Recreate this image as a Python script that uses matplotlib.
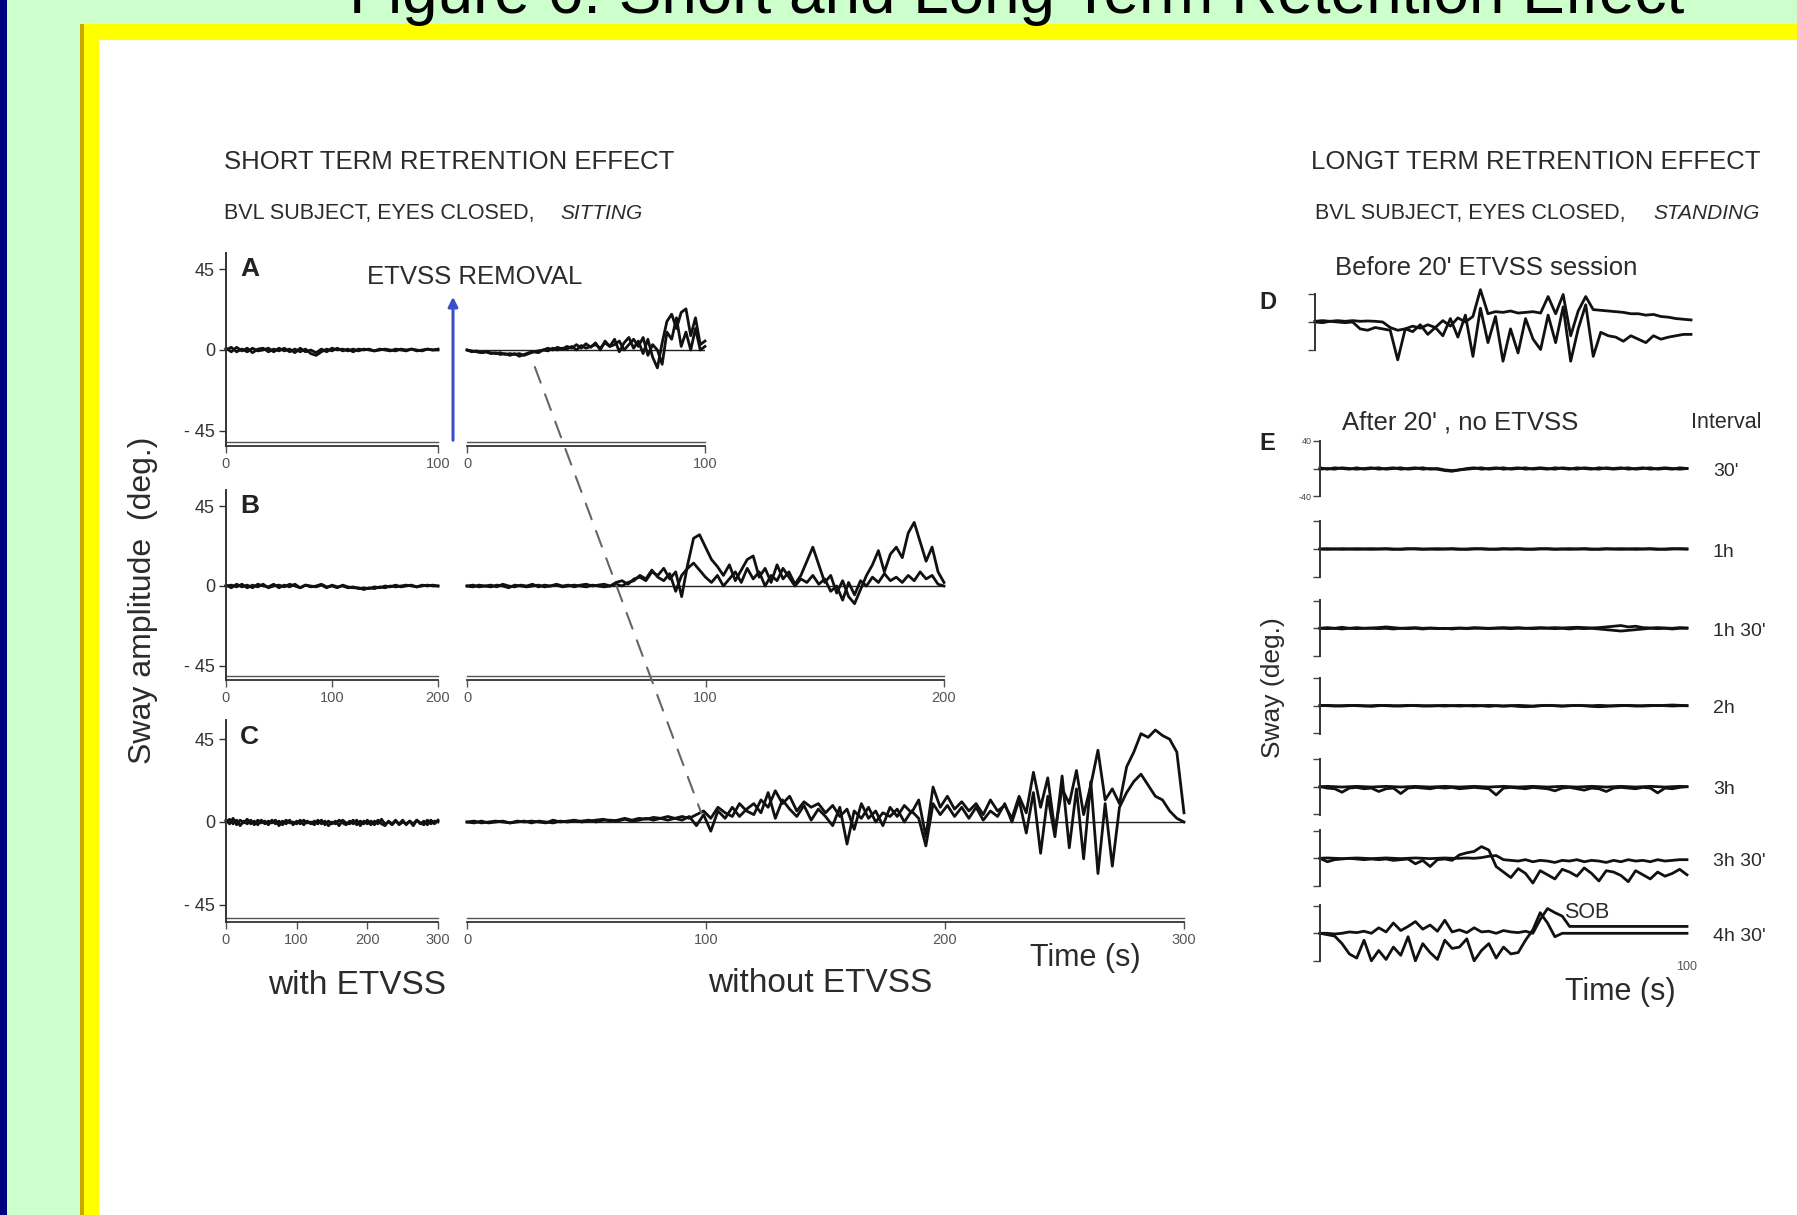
import numpy as np
import matplotlib
matplotlib.use("Agg")
import matplotlib.pyplot as plt
from matplotlib.patches import Rectangle, FancyArrowPatch, ConnectionPatch
from matplotlib.transforms import offset_copy

plt.rcParams['font.family'] = ['Liberation Sans', 'DejaVu Sans']

# ---------------- data (sway in deg.) ----------------
# panel A, 0-100 s with ETVSS / without ETVSS
a_with_1 = [1, -1, 1.5, -0.5, 1, -1.5, 0.5, 1, -1, 0.5, -0.5, 1, -1, 0.5, -1, 0.5, -2, -3, -1, 0.5,
            -0.5, 1, -0.5, 0.5, -1, 0.5, 0, 0.5, -0.5, 0.5, 0, -0.5, 0.5, 0, -0.5, 0.5, 0, -0.5, 0.5, 0, 0]
a_with_2 = [0, 1.5, -1, 0.5, -1, 1, -0.5, 0, 1, -1, 1, -0.5, 0.5, -1.5, 1, -1, 0, -1.5, 0.5, -1,
            1, 0, 0.5, -0.5, 0.5, -0.5, 0.5, 0, -0.5, 0, 0.5, 0, -0.5, 0.5, 0, 0.5, -0.5, 0, 0.5, 0, 0.5]
a_without_1 = [0, -0.5, -1, -1.5, -1, -2, -1.5, -2.5, -2, -3, -2, -3.5, -2.5, -1.5, -1, -0.5, 0, 1, 0, 1.5,
               0.5, 2, 1, 3, 1, 3.5, 1.5, 4, 0, 5, 2, 6, -1, 4, 7, 1, 5, -2, 6, -4,
               -10, 4, 16, 20, 12, 21, 23, 8, 18, 3, 5]
a_without_2 = [0, -1, -0.5, -1.5, -1, -1.5, -2, -1.5, -2.5, -2, -2.5, -2, -3, -2, -1, -1.5, 0, -0.5, 1, 0,
               1, 0.5, 2, 0, 2.5, 1, 2, 3, 1, 4, 2, 3, 5, 0, 3, 6, 2, 7, -3, 3,
               0, -8, 10, 6, 18, 2, 10, 0, 12, 0, 2]

# panel B, 0-200 s
b_with_1 = [0.5, -1, 1, -0.5, 0.5, -1, 1, 0, -0.5, 1, -1, 0.5, -0.5, 1, -1, 0.5, 0, -0.5, 0.5, -1,
            0.5, -0.5, 0, -1, -0.5, -1.5, -1, -1.5, -0.5, -1, 0, -0.5, 0.5, -0.5, 0, 0.5, -0.5, 0, 0.5, 0, 0]
b_with_2 = [0, 0.5, -0.5, 1, -1, 0.5, -0.5, 1, -1, 0, 0.5, -0.5, 1, 0, -1, 0.5, -0.5, 0, 1, -0.5,
            0, -1, 0.5, -0.5, -1, -1, -2, -1, -1.5, -0.5, -1, 0, -0.5, 0, 0.5, 0, -0.5, 0.5, 0, 0.5, 0]
b_without_1 = [0, 0.5, -0.5, 0, 0.5, -0.5, 1, 0, -0.5, 0.5, 0, 1, -0.5, 0.5, 0, 1, 0, 0.5, -0.5, 0.5,
               1, 0, 0.5, 1, 0,
               2, 3, 1, 4, 5, 3, 8, 6,
               10, 4, 8, -6, 12, 27, 29, 22,
               15, 11, 6, 12, 3, 9, 15, 17,
               5, 10, 2, 12, 4, 8, 1, 6,
               14, 22, 12, 2, 6, -4, 3, -6,
               -10, -2, 6, 12, 20, 8, 18, 22,
               16, 30, 36, 25, 14, 22, 8, 2]
b_without_2 = [0, -0.5, 0.5, 0, -0.5, 0.5, 0, -1, 0.5, 0, -0.5, 0, 0.5, -0.5, 0, 0.5, -0.5, 0, 0.5, 0,
               -0.5, 0.5, 0, -0.5, 0,
               1, 0, 2, 3, 6, 4, 9, 5,
               3, 7, -3, 6, 10, 13, 9, 5,
               2, 6, 0, 4, 8, 2, 10, 4,
               8, 0, 6, 3, 10, 5, 0, 4,
               2, 6, 1, 4, -3, 0, -8, 2,
               -5, 3, 0, 5, 2, 7, 3, 5,
               2, 6, 3, 8, 4, 6, 1, 0]

# panel C, 0-300 s
c_with_1 = [1, -1, 2, -1.5, 1, -0.5, 1.5, -1, 0.5, -1.5, 1, -1, 0.5, -0.5, 1, -2, 0.5, -1, 1, -1.5,
            0.5, -1, 1, -0.5, 0, -1.5, 1, -1, 0.5, -2, 0, -1, 1, -0.5, -1.5, 0.5, -1, 1, -2, 0.5,
            -1, 0.5, -1.5, 1, -1, -2, 0.5, -1, 1, -1.5, 0, -1, 0.5, -2, 1, -1, 0.5, -1.5, 1, -1, 1]
c_with_2 = [0, 1.5, -1, 1, -2, 0.5, -1, 1, -1.5, 1, -0.5, 0.5, -1.5, 1, -1, 0.5, -1.5, 1, -0.5, 0,
            -1, 1, -1.5, 0.5, -1, 0.5, -1, 1, -1.5, 0.5, -1, 0.5, -2, 1, -0.5, -1, 1, -1.5, 0.5, -1,
            1, -1.5, 0.5, -1, 1.5, -1, 0, -1.5, 0.5, -1, 1, -1.5, 0.5, -1, 1, -0.5, -1.5, 1, -1, 0.5, 0]
c_without_1 = [0, 0.5, -0.5, 0, 0.5, 0, -0.5, 0.5, 0, 0.5,
               0, -0.5, 1, 0, 0.5, 1, 0, 0.5, 1, 1.5,
               0.5, 1, 2, 1, 2, 1.5, 2.5, 2, 3, 2,
               3, 2, 4, 6, 2, 8, 5, 3, 10, 6,
               4, 12, 8, 17, 10, 14, 6, 11, 8, 10,
               5, 9, 3, 7, -4, 10, 2, 6, -2, 8,
               3, 9, 5, 12, -8, 19, 8, 14, 7, 11,
               6, 10, 4, 12, 6, 9, 2, 14, 5, 27,
               8, 24, -5, 18, 10, 28, 4, 20, 39, 12,
               18, 10, 30, 38, 48, 46, 50, 47, 45, 38,
               5]
c_without_2 = [0, -0.5, 0.5, -0.5, 0, 0.5, -0.5, 0, 0.5, -0.5,
               0.5, 0, -0.5, 0.5, 0, 0.5, 0.5, 1, 0, 1,
               1, 0.5, 1.5, 0.5, 1, 2, 1, 2, 1, 2,
               1, 3, -2, 4, -5, 6, 2, 8, 3, 7,
               10, 5, 16, 2, 12, 7, 3, 9, 1, 7,
               3, -2, 8, -12, 6, 2, 8, 0, 5, 3,
               7, 0, 6, 2, -13, 10, 4, 9, 3, 8,
               2, 8, 1, 6, 3, 10, 0, 12, -6, 16,
               -17, 14, -8, 25, -14, 18, -20, 22, -28, 10,
               -24, 8, 16, 22, 26, 20, 14, 12, 6, 2,
               0]

# panel D, standing, before the 20' ETVSS session (0-100 s)
d_1 = [1, 2, 1, 2, 1, 2, 1, 1.5, 1, 0,
       -8, -12, -10, -6, -9, -4, -8, 2, -6, 6,
       0, 8, 47, 12, 15, 14, 16, 13, 14, 15,
       13, 37, 12, 40, -20, 16, 37, 18, 17, 16,
       15, 14, 12, 12, 10, 11, 8, 7, 5, 4, 3]
d_2 = [0, -1, 1, 0, -1, 0, -10, -12, -8, -10,
       -12, -55, -10, -14, -4, -18, -8, -20, 5, -22,
       10, -50, 20, -30, 8, -57, -10, -45, 5, -25,
       -40, 10, -30, 22, -57, -10, 25, -50, -15, -20,
       -22, -28, -20, -25, -30, -20, -25, -22, -20, -18, -18]

# panel E, after 20' without ETVSS, one row per interval (0-100 s)
intervals = ["30'", "1h", "1h 30'", "2h", "3h", "3h 30'", "4h 30'"]
e_rows = [
    ([1, -1, 1, 0, -1, 1, -1, 0, 1, -1, 0, 1, -1, 0, 1, -1, 0, -2, -3, -2,
      0, 1, -1, 0, 1, -1, 0, 1, -1, 0, 1, 0, -1, 1, 0, -1, 1, 0, -1, 1,
      0, 1, -1, 0, 1, -1, 0, 1, 0, -1, 0],
     [-1, 0, -1, 1, 0, -1, 0, 1, -1, 0, 1, -1, 0, 1, -1, 0, -1, -3, -4, -2,
      -1, 0, 1, -1, 0, 1, -1, 0, 1, -1, 0, -1, 1, 0, -1, 1, 0, -1, 1, 0,
      -1, 0, 1, -1, 0, 1, -1, 0, -1, 1, 0]),
    ([0, 0.5, 0, -0.5, 0, 0.5, 0, -0.5, 0, 0.5, 0, -0.5, 0, 0.5, 0, 0, -0.5, 0, 0.5, 0,
      -0.5, 0, 0.5, 0, -0.5, 0, 0, 0.5, 0, -0.5, 0, 0.5, 0, 0, -0.5, 0, 0.5, 0, -0.5, 0,
      0, 0.5, 0, -0.5, 0, 0.5, 0, -0.5, 0, 0.5, 0],
     [0, -0.5, 0, 0.5, 0, -0.5, 0, 0.5, 0, 0, -0.5, 0, 0.5, 0, -0.5, 0, 0.5, 0, 0, -0.5,
      0, 0.5, 0, -0.5, 0, 0.5, 0, 0, -0.5, 0, 0.5, 0, -0.5, 0, 0.5, 0, 0, -0.5, 0, 0.5,
      0, -0.5, 0, 0.5, 0, 0, -0.5, 0, 0.5, 0, 0]),
    ([0, 1, 0, 1.5, 0, 1, 0, 0.5, 1, 2, 1, 0, 0.5, 1, 0, 0.5, 0, -0.5, 0, 0.5,
      0, 1, 0.5, 0, 0.5, 1, 0.5, 1, 0, 0.5, 1, 0.5, 1, 0.5, 1, 1.5, 1, 0.5, 1, 2,
      3, 4, 2, 3, 1, 0.5, 1, 0.5, 0, 1, 0.5],
     [0, -0.5, 0, -1, 0, -0.5, 0, 0, -0.5, 0, -1, 0, -0.5, 0, -1, 0, -0.5, 0, -1, 0,
      -0.5, 0, 0, -0.5, 0, 0, -0.5, 0, 0, -0.5, 0, 0, -0.5, 0, -1, 0, -0.5, 0, -1, -2,
      -3, -4, -3, -2, -1, 0, -0.5, 0, -1, 0, 0]),
    ([0, 0.5, 0, -0.5, 0, 0.5, 0, -1, 0, 0.5, 0, -0.5, 0, 0.5, 0, -0.5, 0, 0.5, 0, -0.5,
      0, 0.5, 0, -1, 0, -0.5, 0, -1, -1.5, -1, 0, 0.5, 0, -0.5, 0, 0.5, 0, -1, -1.5, -1,
      0, 0.5, 0, -0.5, 0, 0.5, 0, 0.5, 1, 0.5, 0],
     [0.5, 0, -0.5, 0, 0.5, 0, -0.5, 0, 0.5, 0, -0.5, 0, 0.5, 0, -0.5, 0, 0, -0.5, 0, 0.5,
      0, -0.5, 0, 0.5, 0, -0.5, 0, 0.5, 0, -0.5, 0, 0.5, 0, -0.5, 0, 0.5, 0, 0, 0.5, 0,
      -0.5, 0, 0.5, 0, -0.5, 0, 0.5, 0, -0.5, 0, 0]),
    ([0, 0.5, 0, -0.5, 0, 0.5, 0, -0.5, 0, 0.5, 0, -0.5, 0, 0.5, 0, -0.5, 0, 0.5, 0, -0.5,
      0, 0.5, 0, -0.5, 0, 0.5, 0, -0.5, 0, 0.5, 0, -0.5, 0, 0.5, 0, -0.5, 0, 0.5, 0, -0.5,
      0, 0.5, 0, -0.5, 0, 0.5, 0, -0.5, 0, 0.5, 0],
     [0, -2, -3, -8, -2, -1, -3, -2, -7, -3, -2, -10, -2, -1, -2, -3, -1, -2, -1, -3,
      -2, -1, -2, -3, -12, -2, -1, -2, -3, -1, -2, -3, -6, -2, -1, -3, -5, -2, -3, -7,
      -2, -1, -2, -3, -1, -2, -9, -2, -3, -1, 0]),
    ([0, 0.5, 0, -0.5, 0, 0.5, 0, -0.5, 0, 0.5, 0, -0.5, 0, 0.5, 0, -0.5, 0, 0.5, 0, 0,
      0.5, 0, 1, 3, 4, -2, -3, -4, -2, -5, -3, -4, -6, -3, -4, -2, -5, -3, -4, -6,
      -3, -5, -2, -4, -3, -5, -2, -4, -3, -2, -2],
     [0, -5, -2, -1, 0, -1, -2, -1, -2, -1, -3, -2, -1, -8, -3, -12, -2, -1, -3, 5,
      8, 10, 17, 12, -12, -20, -28, -15, -22, -36, -18, -24, -30, -16, -20, -26, -14, -22, -33, -18,
      -20, -25, -34, -18, -24, -30, -20, -26, -22, -16, -24]),
    ([0, 0, -1, 0, 2, 1, 3, 0, 8, 2, 15, 4, 10, 17, 6, 12, 3, 19, 2, 5,
      1, 8, 2, 3, 0, 4, 2, 1, 3, 0, 20, 36, 30, 25, 10, 10, 10, 10, 10, 10,
      10, 10, 10, 10, 10, 10, 10, 10, 10, 10, 10],
     [0, -2, -4, -15, -30, -36, -10, -40, -25, -38, -20, -32, -5, -40, -15, -28, -38, -10, -22, -20,
      -8, -40, -25, -15, -36, -20, -30, -28, -10, 5, 30, 15, -5, 0, 0, 0, 0, 0, 0, 0,
      0, 0, 0, 0, 0, 0, 0, 0, 0, 0, 0]),
]

# ---------------- figure in slide pixels ----------------
W, H = 1797, 1215
fig = plt.figure(figsize=(W / 100, H / 100), dpi=100)
fig.patch.set_facecolor('#CCFFCC')


def rect(x0, y0, x1, y1, color):
    fig.add_artist(Rectangle((x0 / W, 1 - y1 / H), (x1 - x0) / W, (y1 - y0) / H,
                             transform=fig.transFigure, facecolor=color, lw=0, zorder=0))


def ax_px(left, top, right, bottom):
    ax = fig.add_axes([left / W, 1 - bottom / H, (right - left) / W, (bottom - top) / H])
    ax.patch.set_alpha(0)
    return ax


def txt(x, y, s, size, **kw):
    kw.setdefault('color', '#2b2b2b')
    kw.setdefault('va', 'center')
    return fig.text(x / W, 1 - y / H, s, fontsize=size, **kw)


# slide frame
rect(0, 0, 7, H, '#000080')
rect(80, 24, W, H, '#FFFF00')
rect(80, 24, 84, H, '#C8A800')
rect(99, 40, W, H, '#FFFFFF')

fig.text(1017 / W, 1 - 13 / H, 'Figure 6: Short and Long Term Retention Effect', fontsize=46,
         ha='center', va='baseline', color='black')

TRACE = dict(color='#111111', lw=2.0, clip_on=False)
SPINE = '#333333'


def style_segment(ax, xmax, ticks, with_y):
    ax.set_xlim(0, xmax)
    for s in ['top', 'right']:
        ax.spines[s].set_visible(False)
    ax.spines['left'].set_visible(with_y)
    ax.spines['bottom'].set_color(SPINE)
    ax.spines['bottom'].set_linewidth(1.3)
    ax.spines['left'].set_color(SPINE)
    ax.spines['left'].set_linewidth(1.4)
    # the printed time axis is a double rule
    ax.plot([0, 1], [0, 0], transform=offset_copy(ax.transAxes, fig=fig, y=4, units='dots'),
            color='#555555', lw=1.0, clip_on=False)
    ax.set_xticks(ticks)
    ax.set_xticklabels([str(t) for t in ticks])
    ax.tick_params(axis='x', direction='out', length=5, width=1, colors='#555555',
                   labelsize=10.5, pad=3)
    if with_y:
        ax.set_yticks([45, 0, -45])
        ax.set_yticklabels(['45', '0', '- 45'])
        ax.tick_params(axis='y', direction='out', length=5, width=1, colors='#333333',
                       labelsize=13, pad=3)
    else:
        ax.set_yticks([])


# panels A, B, C: (letter, top, bottom, zero px, px per deg, duration,
#                  with-ETVSS traces, without-ETVSS traces, right end px, ticks)
short_panels = [
    ('A', 253, 446, 350, 1.79, 100, (a_with_1, a_with_2), (a_without_1, a_without_2), 705, [0, 100]),
    ('B', 490, 680, 586, 1.767, 200, (b_with_1, b_with_2), (b_without_1, b_without_2), 944, [0, 100, 200]),
    ('C', 720, 922, 822, 1.84, 300, (c_with_1, c_with_2), (c_without_1, c_without_2), 1184,
     [0, 100, 200, 300]),
]
seg_axes = {}
for letter, top, bottom, zero, scale, dur, with_tr, without_tr, rend, ticks in short_panels:
    ylim = (-(bottom - zero) / scale, (zero - top) / scale)
    axl = ax_px(226, top, 438, bottom)
    axl.set_ylim(*ylim)
    style_segment(axl, dur, ticks, True)
    for tr in with_tr:
        axl.plot(np.linspace(0, dur, len(tr)), tr, **TRACE)
    axr = ax_px(467, top, rend, bottom)
    axr.set_ylim(*ylim)
    style_segment(axr, dur, ticks, False)
    axr.axhline(0, color='#222222', lw=1.0)
    for tr in without_tr:
        axr.plot(np.linspace(0, dur, len(tr)), tr, **TRACE)
    txt(240, top + (zero - top) * 0.17, letter, 19, fontweight='bold', color='#222222')
    seg_axes[letter] = axr

# ETVSS removal arrow
fig.add_artist(FancyArrowPatch((453 / W, 1 - 443 / H), (453 / W, 1 - 294 / H),
                               transform=fig.transFigure, arrowstyle='-|>', mutation_scale=14,
                               color='#3A4FC8', lw=2.2))
txt(367, 277, 'ETVSS REMOVAL', 18.5)

# dashed guide from A (without ETVSS) to C (without ETVSS)
con = ConnectionPatch(xyA=(28.5, -9.5), coordsA=seg_axes['A'].transData,
                      xyB=(98, 5), coordsB=seg_axes['C'].transData,
                      color='#666666', lw=1.5, linestyle=(0, (8, 6)))
fig.add_artist(con)

# texts of the short-term side
txt(224, 162, 'SHORT TERM RETRENTION EFFECT', 18.5)
txt(224, 213, 'BVL SUBJECT, EYES CLOSED,', 15.5)
txt(560, 213, 'SITTING', 15, style='italic')
txt(143, 600, 'Sway amplitude  (deg.)', 23, rotation=90, ha='center')
txt(357, 985, 'with ETVSS', 24, ha='center')
txt(820, 983, 'without ETVSS', 24, ha='center')
txt(1085, 958, 'Time (s)', 22, ha='center')

# ---------------- long-term side ----------------
txt(1311, 162, 'LONGT TERM RETRENTION EFFECT', 18.5)
txt(1315, 213, 'BVL SUBJECT, EYES CLOSED,', 15.5)
txt(1653, 213, 'STANDING', 15, style='italic')
txt(1335, 268, "Before 20' ETVSS session", 18.5)
txt(1259, 303, 'D', 17, fontweight='bold', color='#222222')
txt(1342, 423, "After 20' , no ETVSS", 18.5)
txt(1691, 423, 'Interval', 15.5)
txt(1259, 443, 'E', 17, fontweight='bold', color='#222222')
txt(1273, 688, 'Sway (deg.)', 19, rotation=90, ha='center')
txt(1564, 912, 'SOB', 15.5)
txt(1620, 992, 'Time (s)', 22, ha='center')


def style_row(ax, labels):
    ax.set_xlim(0, 100)
    ax.set_ylim(-40.7, 40.7)
    for s in ['top', 'right', 'bottom']:
        ax.spines[s].set_visible(False)
    ax.spines['left'].set_color(SPINE)
    ax.spines['left'].set_linewidth(1.4)
    ax.set_xticks([])
    ax.set_yticks([40, 0, -40])
    ax.set_yticklabels(labels)
    ax.tick_params(axis='y', direction='out', length=5, width=1, colors='#444444',
                   labelsize=6.5, pad=1)


axd = ax_px(1315, 322 - 28, 1691, 322 + 28)
style_row(axd, ['', '', ''])
for tr in (d_1, d_2):
    axd.plot(np.linspace(0, 100, len(tr)), tr, **TRACE)

row_base = [468.5, 549, 628.3, 705.7, 786.7, 858.3, 933.3]
for i, (label, base, traces) in enumerate(zip(intervals, row_base, e_rows)):
    ax = ax_px(1320, base - 28, 1687, base + 28)
    style_row(ax, ['40', '', '-40'] if i == 0 else ['', '', ''])
    for tr in traces:
        ax.plot(np.linspace(0, 100, len(tr)), tr, **TRACE)
    txt(1713, base + 3, label, 14)
    if i == len(intervals) - 1:
        ax.text(100, -40.7, '100', fontsize=9, color='#555555', ha='center', va='top')

fig.savefig('out.png', dpi=100, facecolor=fig.get_facecolor())
